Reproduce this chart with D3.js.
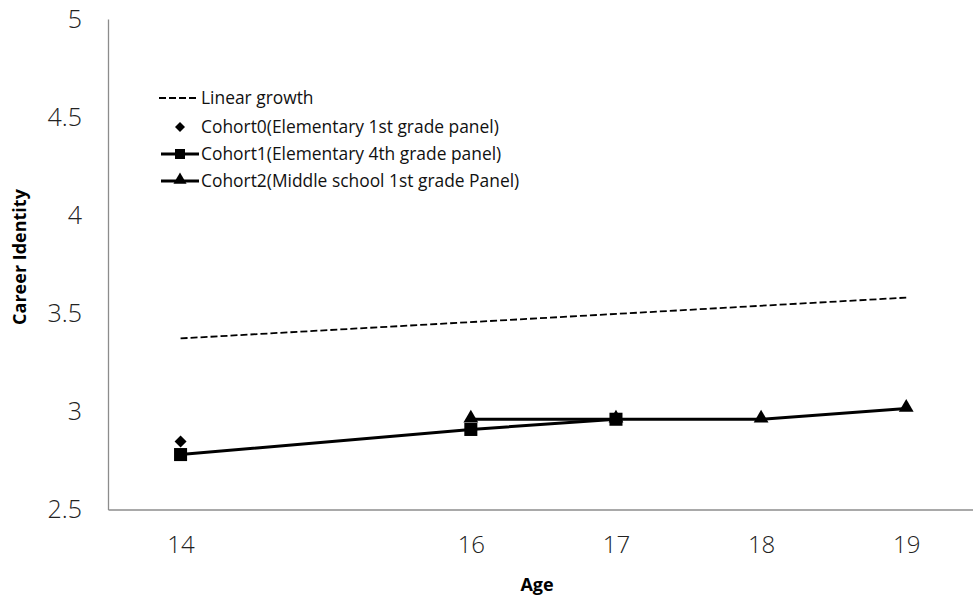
<!DOCTYPE html>
<html><head><meta charset="utf-8">
<script src="https://cdn.jsdelivr.net/npm/d3@7"></script>
<style>body{margin:0;background:#fff}svg{display:block}text{font-family:"Open Sans","Noto Sans",sans-serif}</style>
</head><body><svg id="c" width="973" height="600"></svg>
<script>
const yTicks = [2.5, 3, 3.5, 4, 4.5, 5];
const xTicks = [14, 16, 17, 18, 19];
const linearAges = [14, 19];
const linearValues = [3.372, 3.58];
const cohort0Ages = [14];
const cohort0Values = [2.847];
const cohort1Ages = [14, 16, 17];
const cohort1Values = [2.78, 2.908, 2.96];
const cohort2Ages = [16, 17, 18, 19];
const cohort2Values = [2.96, 2.96, 2.96, 3.015];
const legendLabels = ["Linear growth", "Cohort0(Elementary 1st grade panel)", "Cohort1(Elementary 4th grade panel)", "Cohort2(Middle school 1st grade Panel)"];

const svg = d3.select("#c");
const L = 108, R = 973, T = 19, B = 509.5;
const x = d3.scaleLinear().domain([13.5, 19.46]).range([L, R]);
const y = d3.scaleLinear().domain([2.5, 5]).range([B, T]);

svg.append("g").attr("transform", `translate(${L},0)`)
  .call(d3.axisLeft(y).tickValues(yTicks).tickSize(0).tickPadding(26).tickFormat(d3.format("")))
  .call(g => { g.select(".domain").attr("stroke", "#8c8c8c").attr("stroke-width", 1.3);
    g.selectAll("text").attr("font-size", 25).attr("fill", "#222").attr("font-weight", 300); });
svg.append("g").attr("transform", `translate(0,${B})`)
  .call(d3.axisBottom(x).tickValues(xTicks).tickSize(0).tickPadding(26).tickFormat(d3.format("d")))
  .call(g => { g.select(".domain").attr("stroke", "#8c8c8c").attr("stroke-width", 1.3);
    g.selectAll("text").attr("font-size", 24).attr("fill", "#222").attr("font-weight", 300); });

svg.append("text").attr("x", 537).attr("y", 591).attr("text-anchor", "middle")
  .attr("font-size", 18).attr("font-weight", "bold").text("Age");
svg.append("text").attr("transform", "translate(26,257) rotate(-90)").attr("text-anchor", "middle")
  .attr("font-size", 18).attr("font-weight", "bold").text("Career Identity");

const line = d3.line().x(d => x(d[0])).y(d => y(d[1]));
const z = (a, b) => a.map((v, i) => [v, b[i]]);

svg.append("path").datum(z(linearAges, linearValues)).attr("d", line)
  .attr("fill", "none").attr("stroke", "#000").attr("stroke-width", 1.8).attr("stroke-dasharray", "7,3");
svg.append("path").datum(z(cohort1Ages, cohort1Values)).attr("d", line)
  .attr("fill", "none").attr("stroke", "#000").attr("stroke-width", 3);
svg.append("path").datum(z(cohort2Ages, cohort2Values)).attr("d", line)
  .attr("fill", "none").attr("stroke", "#000").attr("stroke-width", 3);

const sym = (type, size) => d3.symbol().type(type).size(size)();
svg.selectAll(".c2").data(z(cohort2Ages, cohort2Values)).join("path")
  .attr("transform", d => `translate(${x(d[0])},${y(d[1]) - 1})`).attr("d", sym(d3.symbolTriangle, 95));
svg.selectAll(".c1").data(z(cohort1Ages, cohort1Values)).join("path")
  .attr("transform", d => `translate(${x(d[0])},${y(d[1])})`).attr("d", sym(d3.symbolSquare, 170));
svg.selectAll(".c0").data(z(cohort0Ages, cohort0Values)).join("path")
  .attr("transform", d => `translate(${x(d[0])},${y(d[1])}) rotate(45)`).attr("d", sym(d3.symbolSquare, 72));

const lg = svg.append("g");
const rows = [98, 127, 154, 181];
legendLabels.forEach((t, i) => {
  lg.append("text").attr("x", 201).attr("y", rows[i]).attr("dy", "0.35em")
    .attr("font-size", 17.4).attr("fill", "#111").text(t);
});
lg.append("line").attr("x1", 159).attr("x2", 197).attr("y1", rows[0]).attr("y2", rows[0])
  .attr("stroke", "#000").attr("stroke-width", 1.8).attr("stroke-dasharray", "7,3");
lg.append("path").attr("transform", `translate(180,${rows[1]}) rotate(45)`).attr("d", sym(d3.symbolSquare, 50));
lg.append("line").attr("x1", 161).attr("x2", 199).attr("y1", rows[2]).attr("y2", rows[2]).attr("stroke", "#000").attr("stroke-width", 3);
lg.append("path").attr("transform", `translate(180,${rows[2]})`).attr("d", sym(d3.symbolSquare, 100));
lg.append("line").attr("x1", 161).attr("x2", 199).attr("y1", rows[3]).attr("y2", rows[3]).attr("stroke", "#000").attr("stroke-width", 3);
lg.append("path").attr("transform", `translate(180,${rows[3] - 1})`).attr("d", sym(d3.symbolTriangle, 75));
</script></body></html>
